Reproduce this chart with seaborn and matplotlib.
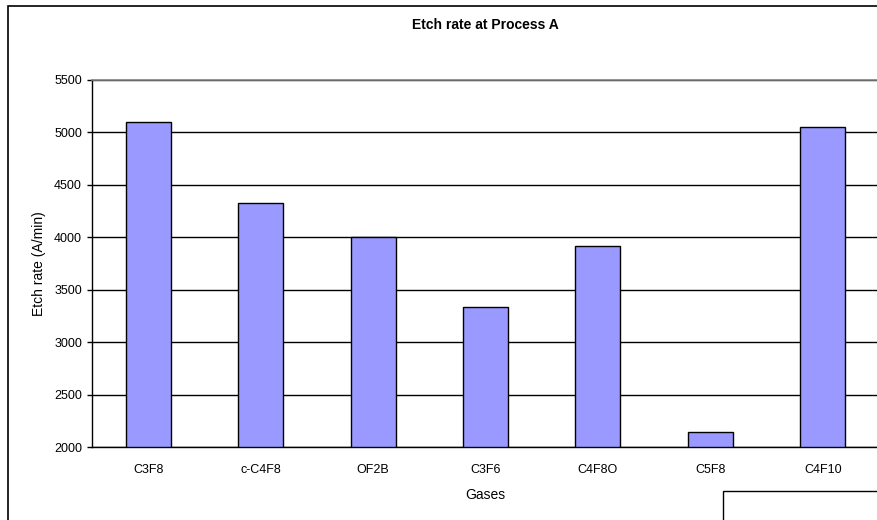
import matplotlib
matplotlib.use("Agg")
import matplotlib.pyplot as plt
from matplotlib.patches import Rectangle
from matplotlib.ticker import FixedLocator, NullFormatter
import seaborn as sns
import pandas as pd

gases = ["C3F8", "c-C4F8", "OF2B", "C3F6", "C4F8O", "C5F8", "C4F10"]
etch_rate = [5095, 4330, 4000, 3335, 3917, 2140, 5048]
y_ticks = [2000, 2500, 3000, 3500, 4000, 4500, 5000, 5500]

sns.set_theme(style="white")
plt.rcParams["font.family"] = ["Liberation Sans", "DejaVu Sans"]
plt.rcParams["text.color"] = "black"
plt.rcParams["axes.labelcolor"] = "black"
plt.rcParams["xtick.color"] = "black"
plt.rcParams["ytick.color"] = "black"

df = pd.DataFrame({"Gases": gases, "Etch rate": etch_rate})

W, H = 877, 520
fig = plt.figure(figsize=(W / 100, H / 100), dpi=100)
fig.patch.set_facecolor("white")

# plot area (extends slightly past the right edge of the canvas)
left, right, top, bottom = 92, 879, 80, 447
ax = fig.add_axes([left / W, 1 - bottom / H, (right - left) / W, (bottom - top) / H])

sns.barplot(data=df, x="Gases", y="Etch rate", ax=ax, color="#9999FF",
            saturation=1, width=0.4, edgecolor="black", linewidth=1.0)

ax.set_xlim(-0.5, len(gases) - 0.5)
ax.set_ylim(2000, 5500)
ax.set_yticks(y_ticks)
ax.set_yticklabels([str(v) for v in y_ticks], fontsize=9)

# category labels at bar centres, tick marks at category boundaries
ax.xaxis.set_major_locator(FixedLocator([i + 0.5 for i in range(-1, len(gases))]))
ax.xaxis.set_major_formatter(NullFormatter())
ax.xaxis.set_minor_locator(FixedLocator(list(range(len(gases)))))
ax.set_xticklabels(gases, minor=True, fontsize=9)
ax.tick_params(axis="x", which="minor", length=0, pad=12)
ax.tick_params(axis="x", which="major", direction="out", length=3, width=1, color="black")
ax.tick_params(axis="y", direction="out", length=3.6, width=1, color="black", pad=3.6, left=True)

ax.set_axisbelow(True)
ax.yaxis.grid(True, color="black", linewidth=1.0)
ax.xaxis.grid(False)

for side in ["left", "bottom"]:
    ax.spines[side].set_color("black")
    ax.spines[side].set_linewidth(1.0)
for side in ["top", "right"]:
    ax.spines[side].set_color("#808080")
    ax.spines[side].set_linewidth(1.2)

ax.set_xlabel("Gases", fontsize=10, labelpad=9)
ax.set_ylabel("Etch rate (A/min)", fontsize=10, labelpad=6)
ax.set_title("Etch rate at Process A", fontsize=10, fontweight="bold", pad=37)

# chart area border
fig.patches.append(Rectangle((8 / W, -0.1), 1.2, 1 - 6 / H + 0.1, transform=fig.transFigure,
                             fill=False, edgecolor="black", linewidth=1.2, zorder=0))
# legend frame in the lower right corner
fig.patches.append(Rectangle((723 / W, -0.1), 0.5, 1 - 491 / H + 0.1, transform=fig.transFigure,
                             fill=False, edgecolor="black", linewidth=1.0, zorder=0))

fig.savefig("out.png", dpi=100)
